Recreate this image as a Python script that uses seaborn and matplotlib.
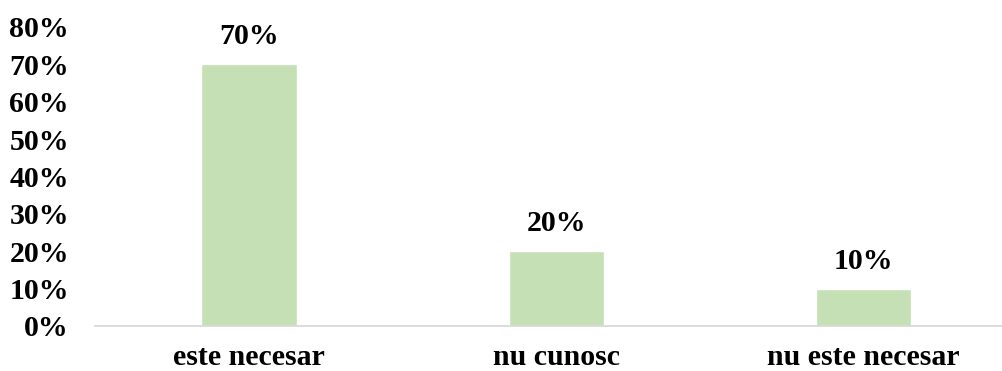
import matplotlib
matplotlib.use("Agg")
import matplotlib.pyplot as plt
import seaborn as sns
from matplotlib.ticker import PercentFormatter

categories = ["este necesar", "nu cunosc", "nu este necesar"]
shares = [0.70, 0.20, 0.10]
y_ticks = [0.0, 0.1, 0.2, 0.3, 0.4, 0.5, 0.6, 0.7, 0.8]

sns.set_theme(style="white")
plt.rcParams["font.family"] = ["Liberation Serif", "DejaVu Serif"]
plt.rcParams["font.weight"] = "bold"

fig = plt.figure(figsize=(10.02, 3.71), dpi=100)
ax = fig.add_axes([0.095, 0.1213, 0.905, 0.806])

sns.barplot(x=categories, y=shares, color="#C5E0B4", width=0.31,
            saturation=1, ax=ax)

ax.set_ylim(0, 0.8)
ax.set_xlim(-0.5, 2.45)
ax.set_yticks(y_ticks)
ax.yaxis.set_major_formatter(PercentFormatter(1.0, decimals=0))

for s in ["top", "right", "left"]:
    ax.spines[s].set_visible(False)
ax.spines["bottom"].set_color("#D9D9D9")
ax.spines["bottom"].set_linewidth(1.3)

fs = 21.5
ax.tick_params(axis="y", length=0, pad=19, labelsize=fs)
ax.tick_params(axis="x", length=0, pad=13, labelsize=fs)
for lab in ax.get_xticklabels() + ax.get_yticklabels():
    lab.set_fontweight("bold")
    lab.set_color("black")

ax.bar_label(ax.containers[0], labels=[f"{v:.0%}" for v in shares],
             padding=10, fontsize=fs, fontweight="bold", color="black")

ax.set_xlabel("")
ax.set_ylabel("")
fig.savefig("out.png", dpi=100)
